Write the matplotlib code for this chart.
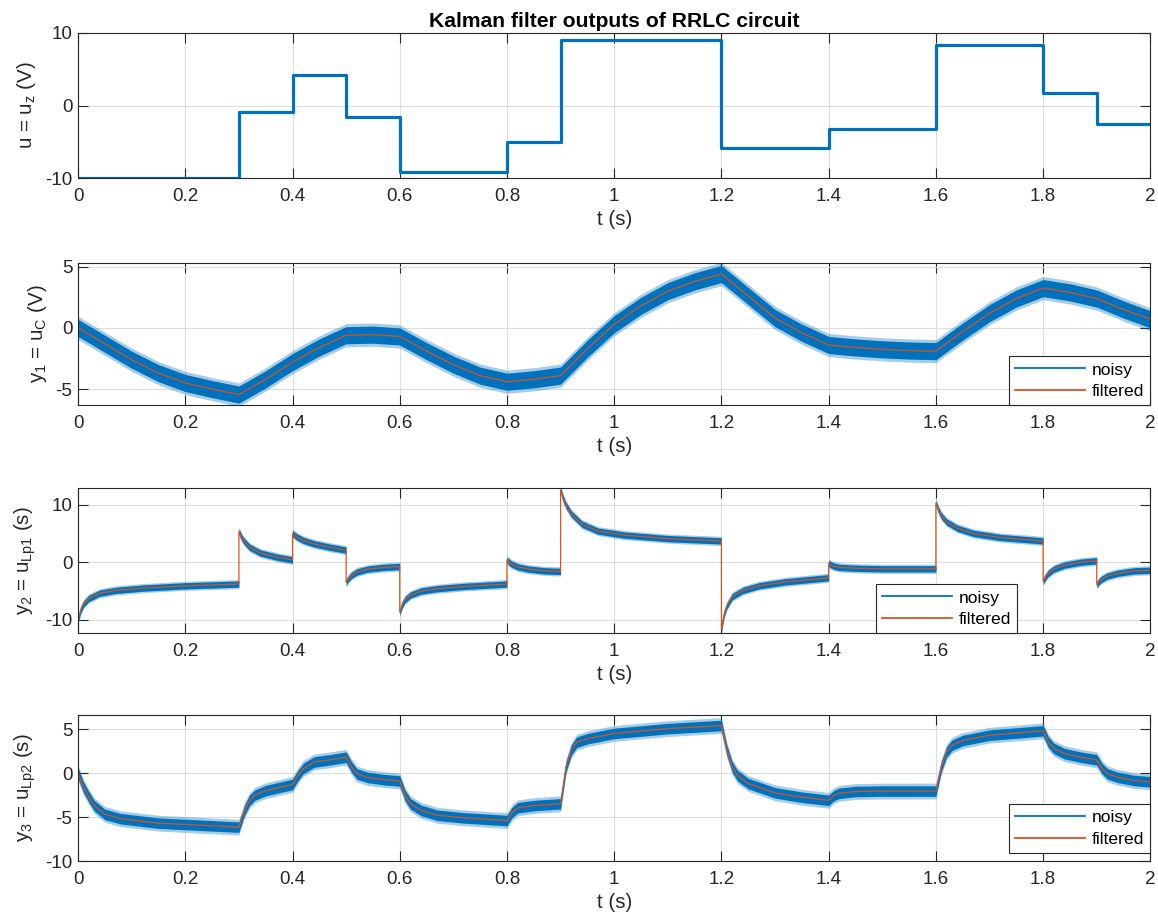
import numpy as np
import matplotlib
matplotlib.use("Agg")
import matplotlib.pyplot as plt
from matplotlib.lines import Line2D
from matplotlib.ticker import FuncFormatter

plt.rcParams['font.family'] = ['Liberation Sans', 'DejaVu Sans']
plt.rcParams['mathtext.default'] = 'regular'
plt.rcParams['axes.unicode_minus'] = False

# --- data ---
# input voltage u (steps)
t_u = [0, 0.3, 0.4, 0.5, 0.6, 0.8, 0.9, 1.2, 1.4, 1.6, 1.8, 1.9, 2.0]
u_vals = [-10, -0.9, 4.2, -1.6, -9.2, -5.0, 9.1, -5.9, -3.3, 8.3, 1.7, -2.5, -2.5]

# y1 = u_C, filtered
t_y1 = [0, 0.05, 0.1, 0.15, 0.2, 0.25, 0.3, 0.35, 0.4, 0.45, 0.5, 0.55, 0.6, 0.65,
        0.7, 0.75, 0.8, 0.85, 0.9, 0.95, 1.0, 1.05, 1.1, 1.15, 1.2, 1.25, 1.3, 1.35,
        1.4, 1.45, 1.5, 1.55, 1.6, 1.65, 1.7, 1.75, 1.8, 1.85, 1.9, 1.95, 2.0]
y1_filt = [0, -1.3, -2.6, -3.7, -4.5, -5.0, -5.45, -4.2, -2.8, -1.6, -0.6, -0.55, -0.7, -1.9,
           -3.0, -3.9, -4.4, -4.2, -3.9, -1.7, 0.3, 1.8, 3.0, 3.8, 4.4, 2.6, 0.8, -0.4,
           -1.4, -1.6, -1.75, -1.85, -1.9, -0.3, 1.2, 2.4, 3.25, 2.9, 2.4, 1.5, 0.7]

# y2 = u_Lp1, filtered
t_y2 = [0, 0.005, 0.01, 0.02, 0.04, 0.07, 0.12, 0.2, 0.3,
        0.3, 0.305, 0.31, 0.32, 0.34, 0.37, 0.4,
        0.4, 0.405, 0.41, 0.42, 0.44, 0.47, 0.5,
        0.5, 0.505, 0.51, 0.52, 0.54, 0.57, 0.6,
        0.6, 0.605, 0.61, 0.62, 0.64, 0.67, 0.72, 0.8,
        0.8, 0.805, 0.81, 0.82, 0.84, 0.87, 0.9,
        0.9, 0.905, 0.91, 0.92, 0.94, 0.97, 1.02, 1.1, 1.2,
        1.2, 1.205, 1.21, 1.22, 1.24, 1.27, 1.32, 1.4,
        1.4, 1.405, 1.41, 1.42, 1.45, 1.5, 1.6,
        1.6, 1.605, 1.61, 1.62, 1.64, 1.67, 1.72, 1.8,
        1.8, 1.805, 1.81, 1.82, 1.84, 1.87, 1.9,
        1.9, 1.905, 1.91, 1.92, 1.94, 1.97, 2.0]
y2_filt = [-10, -8.3, -7.3, -6.3, -5.4, -4.9, -4.5, -4.1, -3.8,
           5.3, 4.3, 3.6, 2.6, 1.6, 0.9, 0.4,
           5.0, 4.6, 4.3, 3.8, 3.2, 2.6, 2.1,
           -3.5, -2.8, -2.3, -1.7, -1.2, -0.9, -0.75,
           -8.7, -7.3, -6.5, -5.7, -5.0, -4.6, -4.2, -3.8,
           0.4, -0.1, -0.4, -0.8, -1.2, -1.5, -1.6,
           12.6, 11.0, 9.9, 8.4, 6.6, 5.4, 4.7, 4.1, 3.7,
           -11.6, -9.0, -7.6, -6.0, -4.9, -4.1, -3.4, -2.7,
           -0.2, -0.5, -0.7, -0.9, -1.05, -1.15, -1.15,
           10.3, 9.0, 8.1, 7.0, 5.9, 5.0, 4.3, 3.7,
           -3.3, -2.5, -1.9, -1.2, -0.5, 0.0, 0.25,
           -3.9, -3.3, -2.9, -2.4, -1.9, -1.5, -1.4]

# y3 = u_Lp2, filtered
t_y3 = [0, 0.01, 0.02, 0.03, 0.05, 0.08, 0.15, 0.2, 0.3,
        0.31, 0.32, 0.33, 0.35, 0.4,
        0.41, 0.42, 0.44, 0.47, 0.5,
        0.51, 0.52, 0.54, 0.57, 0.6,
        0.61, 0.62, 0.64, 0.67, 0.72, 0.8,
        0.81, 0.82, 0.85, 0.9,
        0.91, 0.92, 0.93, 0.95, 1.0, 1.1, 1.2,
        1.21, 1.22, 1.23, 1.25, 1.3, 1.35, 1.4,
        1.41, 1.42, 1.45, 1.5, 1.6,
        1.61, 1.62, 1.63, 1.65, 1.7, 1.8,
        1.81, 1.82, 1.84, 1.87, 1.9,
        1.91, 1.92, 1.94, 1.97, 2.0]
y3_filt = [0, -1.6, -2.7, -3.7, -4.7, -5.2, -5.7, -5.85, -6.15,
           -4.3, -3.1, -2.5, -2.0, -1.3,
           -0.3, 0.5, 1.25, 1.5, 1.8,
           0.7, -0.1, -0.5, -0.75, -0.9,
           -2.55, -3.5, -4.25, -4.8, -5.1, -5.4,
           -4.45, -3.95, -3.7, -3.5,
           0.7, 2.6, 3.5, 3.9, 4.5, 5.05, 5.4,
           2.6, 0.7, -0.3, -1.2, -2.25, -2.75, -3.1,
           -2.55, -2.3, -2.1, -2.05, -2.05,
           0.7, 2.4, 3.15, 3.7, 4.3, 4.8,
           3.5, 2.8, 2.2, 1.8, 1.5,
           0.5, -0.1, -0.5, -0.85, -1.0]

# noise band half widths (solid core, faint fringe) per output
noise_y1 = (0.7, 0.95)
noise_y2 = (0.55, 0.8)
noise_y3 = (0.6, 0.9)

ylabels = ['u = u$_z$ (V)', 'y$_1$ = u$_C$ (V)', 'y$_2$ = u$_{Lp1}$ (s)', 'y$_3$ = u$_{Lp2}$ (s)']
xticks = [0, 0.2, 0.4, 0.6, 0.8, 1.0, 1.2, 1.4, 1.6, 1.8, 2.0]

BLUE = '#0072BD'
ORANGE = '#D95319'
DARK = '#262626'

fig = plt.figure(figsize=(11.58, 9.19), dpi=100)
positions = [[0.0674, 0.8063, 0.926, 0.1578],
             [0.0674, 0.5593, 0.926, 0.1545],
             [0.0674, 0.3112, 0.926, 0.1578],
             [0.0674, 0.0631, 0.926, 0.1589]]
axes = [fig.add_axes(p) for p in positions]


def style(ax, ylabel, yticks, ylim):
    ax.set_xlim(0, 2)
    ax.set_ylim(*ylim)
    ax.set_xticks(xticks)
    ax.set_yticks(yticks)
    ax.xaxis.set_major_formatter(FuncFormatter(lambda v, p: '%g' % v))
    ax.tick_params(direction='in', length=7.5, width=0.8, top=True, right=True,
                   labelsize=13.6, colors=DARK)
    ax.tick_params(axis='x', pad=7)
    ax.tick_params(axis='y', pad=4)
    for s in ax.spines.values():
        s.set_color(DARK)
        s.set_linewidth(0.8)
    ax.grid(True, color='#dedede', linewidth=0.8)
    ax.set_axisbelow(True)
    ax.set_xlabel('t (s)', fontsize=14.8, color=DARK, labelpad=4)
    ax.set_ylabel(ylabel, fontsize=14.8, color=DARK, labelpad=5)


def noisy_band(ax, t, y, widths):
    y = np.array(y)
    core, outer = widths
    ax.fill_between(t, y - outer, y + outer, color=BLUE, alpha=0.35, linewidth=0)
    ax.fill_between(t, y - core, y + core, color=BLUE, linewidth=0)


def add_legend(ax, anchor):
    handles = [Line2D([], [], color=BLUE, lw=1.3), Line2D([], [], color=ORANGE, lw=1.3)]
    leg = ax.legend(handles, ['noisy', 'filtered'], loc='lower right', bbox_to_anchor=anchor,
                    borderaxespad=0, fancybox=False, framealpha=1, edgecolor=DARK,
                    fontsize=12.6, handlelength=4, handletextpad=0.4, labelspacing=0.35,
                    borderpad=0.35)
    leg.get_frame().set_linewidth(0.8)


# u
ax = axes[0]
ax.plot(t_u, u_vals, drawstyle='steps-post', color=BLUE, lw=2.3)
style(ax, ylabels[0], [-10, 0, 10], (-10, 10))
ax.set_title('Kalman filter outputs of RRLC circuit', fontweight='bold', fontsize=15.2,
             color='black', pad=4)

# y1
ax = axes[1]
noisy_band(ax, t_y1, y1_filt, noise_y1)
ax.plot(t_y1, y1_filt, color=ORANGE, lw=0.9)
style(ax, ylabels[1], [-5, 0, 5], (-6.3, 5.3))
add_legend(ax, (1, 0))

# y2
ax = axes[2]
noisy_band(ax, t_y2, y2_filt, noise_y2)
ax.plot(t_y2, y2_filt, color=ORANGE, lw=0.9)
style(ax, ylabels[2], [-10, 0, 10], (-12.3, 12.9))
add_legend(ax, (0.876, 0))

# y3
ax = axes[3]
noisy_band(ax, t_y3, y3_filt, noise_y3)
ax.plot(t_y3, y3_filt, color=ORANGE, lw=0.9)
style(ax, ylabels[3], [-10, -5, 0, 5], (-10, 6.6))
add_legend(ax, (1, 0.055))

fig.savefig('out.png', dpi=100)
